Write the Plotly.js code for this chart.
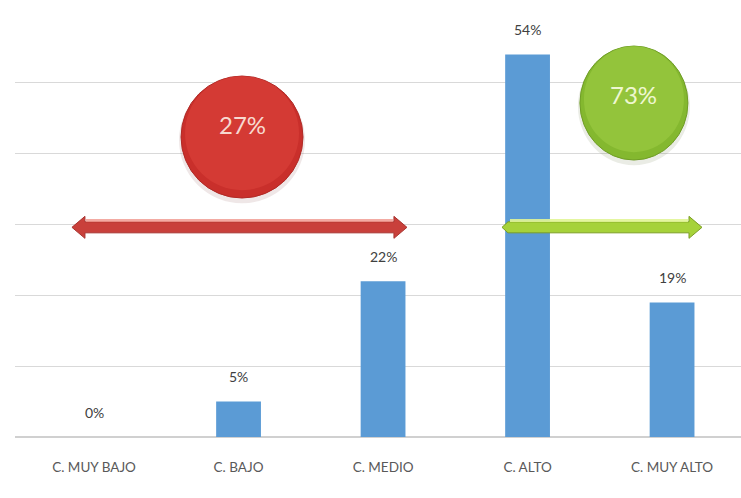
<!DOCTYPE html>
<html><head><meta charset="utf-8">
<script src="https://cdn.plot.ly/plotly-3.0.1.min.js"></script>
<style>html,body{margin:0;padding:0;background:#fff}#chart{width:741px;height:498px}</style>
</head><body><div id="chart"></div>
<script>
const categories = ["C. MUY BAJO", "C. BAJO", "C. MEDIO", "C. ALTO", "C. MUY ALTO"];
const values = [0, 5, 22, 54, 19];
const valueLabels = ["0%", "5%", "22%", "54%", "19%"];
const groupLabels = ["27%", "73%"];
const yTicks = [0, 10, 20, 30, 40, 50, 60];

const FONT = "'Liberation Sans Narrow', Lato, 'Open Sans', sans-serif";
const xs = categories.map((c, i) => i);

const annotations = values.map((v, i) => ({
  x: i, y: v, xref: 'x', yref: 'y', text: valueLabels[i], showarrow: false,
  yanchor: 'middle', yshift: 25, font: {family: FONT, size: 14, color: '#404040'}
}));

function circle(cx, cy, rx, ry, fill, line, lw) {
  return {type: 'circle', xref: 'x', yref: 'y', xsizemode: 'pixel', ysizemode: 'pixel',
    xanchor: cx, yanchor: cy, x0: -rx, x1: rx, y0: -ry, y1: ry,
    fillcolor: fill, line: {color: line, width: lw}, layer: 'above'};
}
function pathPx(ax, ay, d, fill, line, lw) {
  return {type: 'path', xref: 'x', yref: 'y', xsizemode: 'pixel', ysizemode: 'pixel',
    xanchor: ax, yanchor: ay, path: d, fillcolor: fill, line: {color: line, width: lw}, layer: 'above'};
}
function dblArrow(L, shaft, head, headLen) {
  const s = shaft / 2, h = head / 2;
  return `M0,0 L${headLen},${h} L${headLen},${s} L${L - headLen},${s} L${L - headLen},${h} L${L},0 L${L - headLen},${-h} L${L - headLen},${-s} L${headLen},${-s} L${headLen},${-h} Z`;
}
function rightArrow(L, shaft, head, headLen, tip) {
  const s = shaft / 2, h = head / 2;
  return `M0,0 L${tip},${s} L${L - headLen},${s} L${L - headLen},${h} L${L},0 L${L - headLen},${-h} L${L - headLen},${-s} L${tip},${-s} Z`;
}

const shapes = [
  pathPx(-0.153, 29.6, dblArrow(335, 11, 22, 13), '#c9403b', '#a83430', 1),
  pathPx(-0.153, 30.2, `M14,4 L321,4 L321,1 L14,1 Z`, 'rgba(240,150,140,0.8)', 'rgba(0,0,0,0)', 0),
  pathPx(2.823, 29.6, rightArrow(200, 11, 22, 13, 6), '#a6d23a', '#7c9e25', 1),
  pathPx(2.823, 30.2, `M8,4 L186,4 L186,1 L8,1 Z`, 'rgba(225,245,150,0.9)', 'rgba(0,0,0,0)', 0),
  circle(1.024, 41.9, 63, 63, 'rgba(120,60,60,0.12)', 'rgba(0,0,0,0)', 0),
  circle(1.024, 42.35, 61, 61, '#c92f2b', '#b02a26', 1),
  circle(1.024, 42.9, 57, 57, '#d43a34', 'rgba(0,0,0,0)', 0),
  circle(3.736, 46.7, 56, 59, 'rgba(80,100,40,0.12)', 'rgba(0,0,0,0)', 0),
  circle(3.736, 47.15, 54, 57, '#84b82f', '#6f9d25', 1),
  circle(3.736, 47.7, 50, 53, '#93c43b', 'rgba(0,0,0,0)', 0)
];

annotations.push({x: 1.024, y: 42.35, xref: 'x', yref: 'y', text: groupLabels[0], showarrow: false,
  yshift: 13, font: {family: FONT, size: 24, color: '#f7d9d0'}});
annotations.push({x: 3.736, y: 47.15, xref: 'x', yref: 'y', text: groupLabels[1], showarrow: false,
  yshift: 9, font: {family: FONT, size: 24, color: '#eef7d0'}});

const trace = {
  type: 'bar', x: xs, y: values, marker: {color: '#5b9bd5'}, width: 0.31,
  hoverinfo: 'none'
};

const layout = {
  width: 741, height: 498,
  margin: {l: 15, r: 0, t: 12, b: 61},
  paper_bgcolor: '#ffffff', plot_bgcolor: '#ffffff',
  showlegend: false,
  xaxis: {
    range: [-0.547, 4.477], tickmode: 'array', tickvals: xs, ticktext: categories,
    showgrid: false, zeroline: false, showline: false, ticks: '',
    ticklabelstandoff: 20,
    tickfont: {family: FONT, size: 13.5, color: '#595959'}
  },
  yaxis: {
    range: [0, 60], tickmode: 'array', tickvals: yTicks, showticklabels: false,
    showgrid: true, gridcolor: '#d9d9d9', gridwidth: 1, zeroline: true, zerolinecolor: '#d0d0d0',
    zerolinewidth: 1.5, showline: false, ticks: ''
  },
  shapes: shapes,
  annotations: annotations
};

Plotly.newPlot('chart', [trace], layout, {staticPlot: true, displayModeBar: false});
</script></body></html>
